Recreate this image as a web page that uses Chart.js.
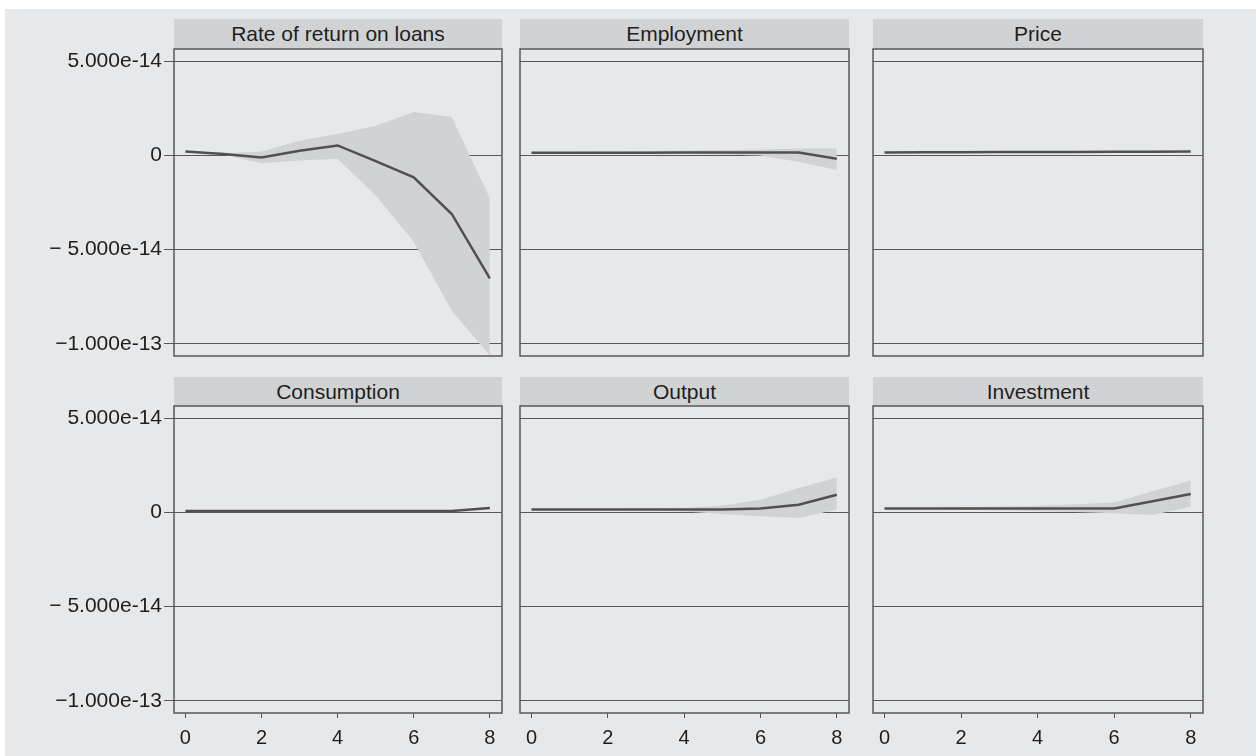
<!DOCTYPE html>
<html>
<head>
<meta charset="utf-8">
<script src="https://cdn.jsdelivr.net/npm/chart.js@4/dist/chart.umd.min.js"></script>
<style>
  body { margin: 0; background: #fff; width: 1256px; height: 756px; position: relative; overflow: hidden;
         font-family: 'Liberation Sans', Arial, sans-serif; }
  #bg { position: absolute; left: 5px; top: 9px; right: 0; bottom: 0; background: #e7e8ea; }
  .strip { position: absolute; background: #d1d2d4; color: #1e1e1e; font-size: 21px; text-align: center; }
  canvas { position: absolute; }
</style>
</head>
<body>
<div id="bg"></div>
<script>
// values are in units of 1e-14
const steps = [0, 1, 2, 3, 4, 5, 6, 7, 8];
const xTicks = [0, 2, 4, 6, 8];
const yTicks = [-10, -5, 0, 5];
const yLabels = ['\u22121.000e-13', '\u2212 5.000e-14', '0', '5.000e-14'];

const titles = ['Rate of return on loans', 'Employment', 'Price', 'Consumption', 'Output', 'Investment'];

const rateLine  = [0.21, 0.07, -0.11, 0.25, 0.53, -0.30, -1.16, -3.11, -6.53];
const rateUpper = [0.21, 0.12, 0.21, 0.78, 1.14, 1.57, 2.30, 2.04, -2.27];
const rateLower = [0.21, 0.05, -0.41, -0.27, -0.18, -2.13, -4.58, -8.25, -10.64];

const emplLine  = [0.14, 0.14, 0.14, 0.14, 0.15, 0.15, 0.15, 0.16, -0.18];
const emplUpper = [0.15, 0.18, 0.20, 0.23, 0.26, 0.29, 0.32, 0.37, 0.37];
const emplLower = [0.13, 0.12, 0.11, 0.10, 0.08, 0.05, 0.00, -0.34, -0.77];

const priceLine  = [0.16, 0.165, 0.17, 0.175, 0.18, 0.185, 0.19, 0.20, 0.21];
const priceUpper = [0.18, 0.185, 0.19, 0.195, 0.20, 0.205, 0.21, 0.22, 0.23];
const priceLower = [0.14, 0.145, 0.15, 0.155, 0.16, 0.165, 0.17, 0.18, 0.19];

const consLine  = [0.08, 0.08, 0.08, 0.08, 0.08, 0.08, 0.08, 0.08, 0.24];
const consUpper = [0.09, 0.09, 0.09, 0.09, 0.09, 0.09, 0.09, 0.09, 0.26];
const consLower = [0.07, 0.07, 0.07, 0.07, 0.07, 0.07, 0.07, 0.07, 0.22];

const outLine  = [0.15, 0.15, 0.15, 0.15, 0.15, 0.16, 0.21, 0.41, 0.94];
const outUpper = [0.16, 0.17, 0.18, 0.20, 0.23, 0.37, 0.67, 1.29, 1.86];
const outLower = [0.14, 0.13, 0.12, 0.10, 0.05, -0.09, -0.21, -0.30, 0.15];

const invLine  = [0.21, 0.21, 0.21, 0.21, 0.21, 0.21, 0.21, 0.59, 0.98];
const invUpper = [0.22, 0.24, 0.27, 0.31, 0.36, 0.44, 0.52, 1.12, 1.69];
const invLower = [0.20, 0.18, 0.15, 0.12, 0.08, 0.02, -0.05, -0.14, 0.30];

const panels = [
    [rateLine, rateUpper, rateLower],
    [emplLine, emplUpper, emplLower],
    [priceLine, priceUpper, priceLower],
    [consLine, consUpper, consLower],
    [outLine, outUpper, outLower],
    [invLine, invUpper, invLower]
];

// page layout (pixels)
const colLeft = [174, 520, 873];
const colRight = [502, 849, 1203];
const rowTop = [49, 406];
const rowBottom = [356, 713];
const stripTop = [19, 377];

Chart.defaults.font.family = "'Liberation Sans', Arial, sans-serif";
Chart.defaults.color = '#1e1e1e';

const frame = {
    id: 'frame',
    afterDatasetsDraw(chart) {
        const {ctx, chartArea: a} = chart;
        ctx.save();
        ctx.strokeStyle = '#58585a';
        ctx.lineWidth = 1.5;
        ctx.strokeRect(a.left, a.top, a.right - a.left, a.bottom - a.top);
        ctx.restore();
    }
};

const pts = arr => steps.map((s, i) => ({x: s, y: arr[i]}));

panels.forEach(([line, upper, lower], i) => {
    const col = i % 3;
    const row = Math.floor(i / 3);
    const plotL = colLeft[col], plotR = colRight[col];
    const plotT = rowTop[row], plotB = rowBottom[row];

    const strip = document.createElement('div');
    strip.className = 'strip';
    strip.textContent = titles[i];
    strip.style.left = plotL + 'px';
    strip.style.width = (plotR - plotL) + 'px';
    strip.style.top = stripTop[row] + 'px';
    strip.style.height = (plotT - stripTop[row]) + 'px';
    strip.style.lineHeight = (plotT - stripTop[row]) + 'px';
    document.body.appendChild(strip);

    const left = col === 0 ? 0 : plotL - 6;
    const top = plotT - 20;
    const bottom = row === 0 ? plotB + 20 : 756;
    const canvas = document.createElement('canvas');
    canvas.width = plotR + 6 - left;
    canvas.height = bottom - top;
    canvas.style.left = left + 'px';
    canvas.style.top = top + 'px';
    document.body.appendChild(canvas);

    new Chart(canvas, {
        type: 'line',
        data: {
            datasets: [
                { data: pts(line), borderColor: '#505052', borderWidth: 2.5, pointRadius: 0, fill: false },
                { data: pts(upper), borderWidth: 0, pointRadius: 0, backgroundColor: '#d1d2d4', fill: '+1' },
                { data: pts(lower), borderWidth: 0, pointRadius: 0, fill: false }
            ]
        },
        options: {
            responsive: false,
            animation: false,
            layout: { padding: { top: 20, right: 6, left: col ? 6 : 0, bottom: row ? 0 : 20 } },
            plugins: { legend: { display: false }, tooltip: { enabled: false } },
            scales: {
                x: {
                    type: 'linear', min: -0.3, max: 8.32, display: row === 1,
                    afterBuildTicks: s => { s.ticks = xTicks.map(v => ({value: v})); },
                    afterFit: s => { if (row === 1) s.height = 43; },
                    border: { display: false },
                    grid: { drawOnChartArea: false, drawTicks: true, tickLength: 5, color: '#58585a' },
                    ticks: { font: { size: 20 }, padding: 8, maxRotation: 0 }
                },
                y: {
                    min: -10.65, max: 5.65,
                    afterBuildTicks: s => { s.ticks = yTicks.map(v => ({value: v})); },
                    afterFit: s => { s.width = col ? 0 : 174; },
                    border: { display: false },
                    grid: { color: '#58585a', lineWidth: 1, drawTicks: col === 0, tickLength: 10 },
                    ticks: { display: col === 0, font: { size: 21 }, padding: 2,
                             callback: v => yLabels[yTicks.indexOf(v)] }
                }
            }
        },
        plugins: [frame]
    });
});
</script>
</body>
</html>
